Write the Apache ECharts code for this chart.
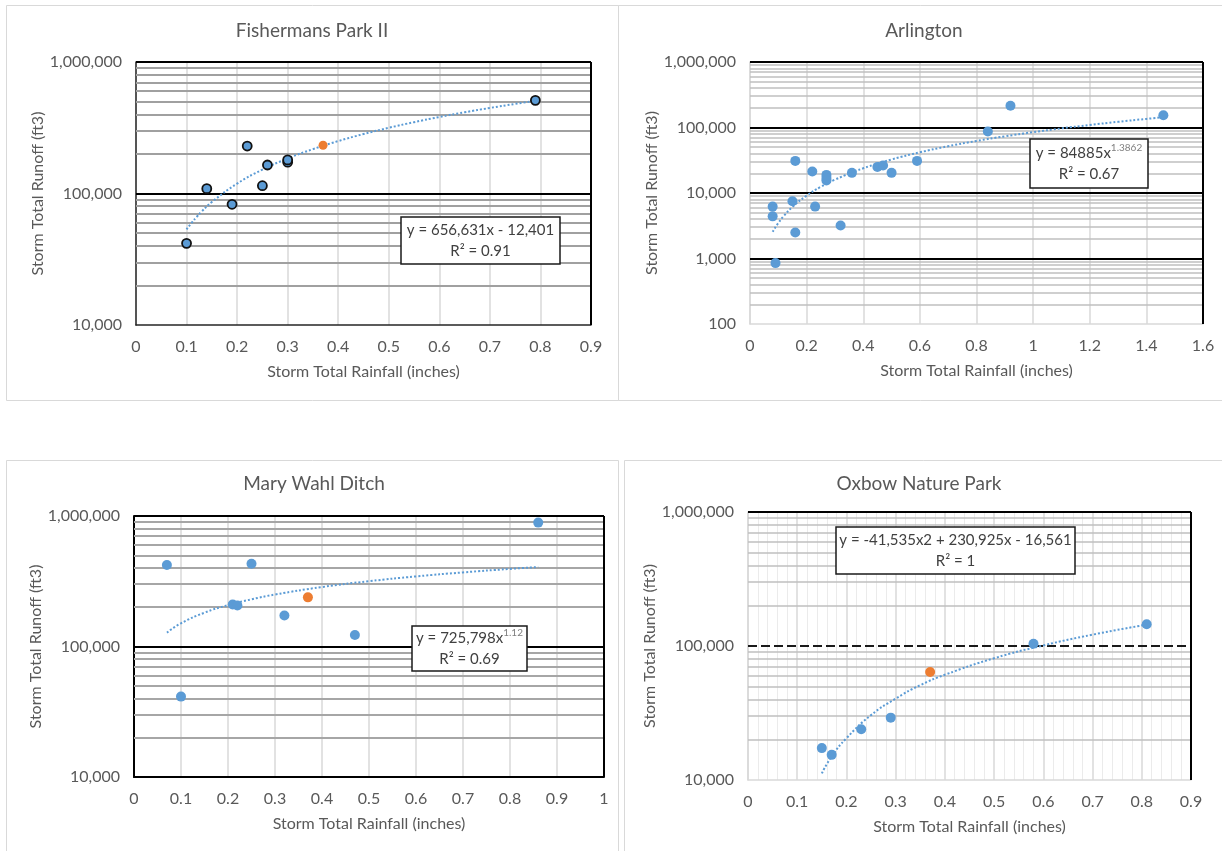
<!DOCTYPE html>
<html>
<head>
<meta charset="utf-8">
<script src="https://cdn.jsdelivr.net/npm/echarts@6/dist/echarts.min.js"></script>
<style>
html,body{margin:0;padding:0;background:#fff;}
#chart{width:1222px;height:851px;}
</style>
</head>
<body>
<div id="chart"></div>
<script>
// ---------------- DATA ----------------
// Fishermans Park II
const fpX = [0.10, 0.14, 0.19, 0.22, 0.25, 0.26, 0.30, 0.30, 0.79];
const fpY = [41800, 108900, 82800, 229600, 114600, 164700, 173000, 180000, 511000];
const fpTargetX = [0.37];
const fpTargetY = [232700];
const fpTrendX = [0.10, 0.11, 0.12, 0.13, 0.15, 0.20, 0.25, 0.30, 0.35, 0.40, 0.45, 0.50, 0.55, 0.60, 0.65, 0.70, 0.75, 0.79];
const fpTrendY = [53300, 59800, 66400, 73000, 86100, 118900, 151800, 184600, 217400, 250300, 283100, 315900, 348700, 381600, 414400, 447200, 480100, 506300];

// Arlington
const arX = [0.08, 0.08, 0.09, 0.15, 0.16, 0.16, 0.22, 0.23, 0.27, 0.27, 0.27, 0.32, 0.36, 0.45, 0.47, 0.50, 0.59, 0.84, 0.92, 1.46];
const arY = [6200, 4400, 850, 7500, 30900, 2500, 21300, 6200, 18900, 17000, 15500, 3200, 20300, 25000, 26300, 20300, 30900, 86700, 215000, 153500];
const arTrendX = [0.08, 0.10, 0.12, 0.15, 0.20, 0.25, 0.30, 0.40, 0.50, 0.60, 0.70, 0.80, 0.90, 1.00, 1.10, 1.20, 1.30, 1.40, 1.46];
const arTrendY = [2560, 3490, 4490, 6120, 9120, 12430, 15990, 23830, 32470, 41810, 51770, 62300, 73350, 84890, 96880, 109290, 122120, 135330, 143440];

// Mary Wahl Ditch
const mwX = [0.07, 0.10, 0.21, 0.22, 0.25, 0.32, 0.47, 0.86];
const mwY = [421000, 41300, 210000, 206000, 431000, 173000, 122500, 890000];
const mwTargetX = [0.37];
const mwTargetY = [238000];
const mwTrendX = [0.07, 0.10, 0.15, 0.20, 0.25, 0.30, 0.40, 0.50, 0.60, 0.70, 0.80, 0.86];
const mwTrendY = [127800, 150600, 181600, 207400, 229900, 250100, 285500, 316500, 344300, 369600, 393200, 406500];

// Oxbow Nature Park
const oxX = [0.15, 0.17, 0.23, 0.29, 0.58, 0.81];
const oxY = [17300, 15400, 23900, 29200, 104000, 145100];
const oxTargetX = [0.37];
const oxTargetY = [63900];
const oxTrendX = [0.15, 0.17, 0.20, 0.25, 0.30, 0.35, 0.40, 0.50, 0.60, 0.70, 0.81];
const oxTrendY = [11200, 15000, 20500, 30500, 40500, 51000, 61000, 81000, 101000, 121500, 144300];

// Titles / labels
const titles = ['Fishermans Park II', 'Arlington', 'Mary Wahl Ditch', 'Oxbow Nature Park'];
const xName = 'Storm Total Rainfall (inches)';
const yName = 'Storm Total Runoff (ft3)';
const equations = [
  'y = 656,631x - 12,401\nR² = 0.91',
  'y = 84885x{sup|1.3862}\nR² = 0.67',
  'y = 725,798x{sup|1.12}\nR² = 0.69',
  'y = -41,535x2 + 230,925x - 16,561\nR² = 1'
];
// axis ranges
const xMaxes = [0.9, 1.6, 1, 0.9];
const xIntervals = [0.1, 0.2, 0.1, 0.1];
const yMins = [10000, 100, 10000, 10000];
const yMaxes = [1000000, 1000000, 1000000, 1000000];

// ---------------- STYLE / LAYOUT ----------------
const FONT = 'Lato, "Liberation Sans", sans-serif';
const TXT = '#595959';
const BLUE = '#5b9bd5';
const ORANGE = '#ed7d31';
const BLACK = '#000000';
const LIGHT = '#d9d9d9';

const grids = [
  {left: 136, top: 62, width: 455, height: 263},
  {left: 750, top: 62, width: 453, height: 262},
  {left: 134, top: 516, width: 470, height: 261},
  {left: 748, top: 512, width: 443, height: 268}
];
const titlePos = [[312, 30], [924, 30], [314, 483], [919, 483]];
const eqBoxes = [
  [401, 217, 159, 47],
  [1030, 139, 118, 49],
  [412, 626, 115, 45],
  [836, 527, 239, 47]
];
const panelBoxes = [
  [6, 5, 612, 395],
  [618, 5, 610, 395],
  [6, 460, 612, 400],
  [624, 460, 600, 400]
];

const panelStyle = [
  { left: {color: '#262626', width: 1.5}, bottom: {color: '#262626', width: 1.5},
    minor: {color: '#a0a0a0', width: 2}, decades: [[100000, BLACK, 'solid'], [1000000, BLACK, 'solid']],
    marker: {size: 9, border: true}, xMinor: false },
  { left: {color: LIGHT, width: 1.5}, bottom: {color: LIGHT, width: 1.5},
    minor: {color: '#bfbfbf', width: 1.5}, decades: [[1000, BLACK, 'solid'], [10000, BLACK, 'solid'], [100000, BLACK, 'solid'], [1000000, BLACK, 'solid']],
    marker: {size: 10, border: false}, xMinor: false },
  { left: {color: BLACK, width: 2}, bottom: {color: BLACK, width: 2},
    minor: {color: '#a6a6a6', width: 2}, decades: [[100000, BLACK, 'solid'], [1000000, BLACK, 'solid']],
    marker: {size: 10, border: false}, xMinor: false },
  { left: {color: LIGHT, width: 1.5}, bottom: {color: LIGHT, width: 1.5},
    minor: {color: '#bfbfbf', width: 1.5}, decades: [[100000, '#1a1a1a', [9, 4]], [1000000, BLACK, 'solid']],
    marker: {size: 10, border: false}, xMinor: true }
];

const pts = [[fpX, fpY], [arX, arY], [mwX, mwY], [oxX, oxY]];
const targets = [[fpTargetX, fpTargetY], null, [mwTargetX, mwTargetY], [oxTargetX, oxTargetY]];
const trends = [[fpTrendX, fpTrendY], [arTrendX, arTrendY], [mwTrendX, mwTrendY], [oxTrendX, oxTrendY]];

function zip(a, b) { return a.map((v, i) => [v, b[i]]); }
function minorVals(min, max) {
  const out = [];
  for (let d = min; d < max; d *= 10) for (let k = 2; k <= 9; k++) out.push(k * d);
  return out;
}
function fmtNum(v) {
  return Math.round(v).toString().replace(/\B(?=(\d{3})+(?!\d))/g, ',');
}
function fmtX(v) { return String(+(+v).toFixed(2)); }

const xAxes = [], yAxes = [], series = [], graphics = [];

for (let i = 0; i < 4; i++) {
  const st = panelStyle[i];
  xAxes.push({
    gridIndex: i, type: 'value', min: 0, max: xMaxes[i], interval: xIntervals[i],
    axisLine: {show: true, onZero: false, lineStyle: {color: st.bottom.color, width: st.bottom.width}},
    axisTick: {show: false},
    splitLine: {show: true, lineStyle: {color: LIGHT, width: 1.5}},
    minorTick: {show: false, splitNumber: 5},
    minorSplitLine: {show: st.xMinor, lineStyle: {color: '#ebebeb', width: 1}},
    axisLabel: {color: TXT, fontSize: 16, fontFamily: FONT, margin: 14, formatter: fmtX, showMaxLabel: true, showMinLabel: true},
    name: xName, nameLocation: 'middle', nameGap: 39,
    nameTextStyle: {color: TXT, fontSize: 16, fontFamily: FONT}
  });
  yAxes.push({
    gridIndex: i, type: 'log', logBase: 10, min: yMins[i], max: yMaxes[i],
    axisLine: {show: true, onZero: false, lineStyle: {color: st.left.color, width: st.left.width}},
    axisTick: {show: false},
    splitLine: {show: false},
    axisLabel: {color: TXT, fontSize: 16, fontFamily: FONT, margin: 14, formatter: fmtNum},
    name: yName, nameLocation: 'middle', nameGap: 90,
    nameTextStyle: {color: TXT, fontSize: 16, fontFamily: FONT}
  });

  // gridlines helper series
  const ml = [];
  minorVals(yMins[i], yMaxes[i]).forEach(v => ml.push({yAxis: v, lineStyle: {color: st.minor.color, width: st.minor.width, type: 'solid'}}));
  st.decades.forEach(d => ml.push({yAxis: d[0], lineStyle: {color: d[1], width: 2, type: d[2]}}));
  ml.push({xAxis: xMaxes[i], lineStyle: {color: BLACK, width: 2, type: 'solid'}});
  series.push({
    type: 'line', xAxisIndex: i, yAxisIndex: i, data: [[0, yMins[i]]],
    symbol: 'none', lineStyle: {width: 0, opacity: 0}, silent: true, z: 1, animation: false,
    markLine: {silent: true, symbol: ['none', 'none'], label: {show: false}, z: 3, animation: false,
      emphasis: {disabled: true}, data: ml}
  });

  // trendline
  series.push({
    type: 'line', xAxisIndex: i, yAxisIndex: i, data: zip(trends[i][0], trends[i][1]),
    symbol: 'none', smooth: true, silent: true, z: 8, animation: false,
    lineStyle: {color: BLUE, width: 2, type: [2, 2]}
  });
  // points
  series.push({
    type: 'scatter', xAxisIndex: i, yAxisIndex: i, data: zip(pts[i][0], pts[i][1]),
    symbolSize: st.marker.size, z: 10, animation: false,
    itemStyle: {color: BLUE, borderColor: st.marker.border ? '#111111' : BLUE, borderWidth: st.marker.border ? 1.8 : 0, opacity: 1}
  });
  if (targets[i]) {
    series.push({
      type: 'scatter', xAxisIndex: i, yAxisIndex: i, data: zip(targets[i][0], targets[i][1]),
      symbolSize: st.marker.size, z: 11, animation: false,
      itemStyle: {color: ORANGE, opacity: 1}
    });
  }

  // panel frame
  const pb = panelBoxes[i];
  graphics.push({type: 'rect', z: 0, silent: true,
    shape: {x: pb[0] + 0.5, y: pb[1] + 0.5, width: pb[2], height: pb[3]},
    style: {fill: 'none', stroke: LIGHT, lineWidth: 1}});
  // title
  graphics.push({type: 'text', z: 50, silent: true, x: titlePos[i][0], y: titlePos[i][1] + 1,
    style: {text: titles[i], fill: TXT, font: '19px ' + FONT, align: 'center', verticalAlign: 'middle'}});
  // equation box
  const eb = eqBoxes[i];
  graphics.push({type: 'rect', z: 100, silent: true,
    shape: {x: eb[0], y: eb[1], width: eb[2], height: eb[3]},
    style: {fill: '#ffffff', stroke: '#1a1a1a', lineWidth: 1.5}});
  graphics.push({type: 'text', z: 101, silent: true, x: eb[0] + eb[2] / 2, y: eb[1] + eb[3] / 2,
    style: {text: equations[i], fill: '#404040', font: '15px ' + FONT, align: 'center', verticalAlign: 'middle',
      lineHeight: 21, rich: {sup: {fontSize: 10, fill: '#7f7f7f', verticalAlign: 'top', lineHeight: 21, fontFamily: FONT}}}});
}

const chart = echarts.init(document.getElementById('chart'), null, {renderer: 'canvas'});
chart.setOption({
  animation: false,
  backgroundColor: '#ffffff',
  textStyle: {fontFamily: FONT},
  grid: grids.map(g => Object.assign({containLabel: false}, g)),
  xAxis: xAxes,
  yAxis: yAxes,
  series: series,
  graphic: graphics
});
</script>
</body>
</html>
